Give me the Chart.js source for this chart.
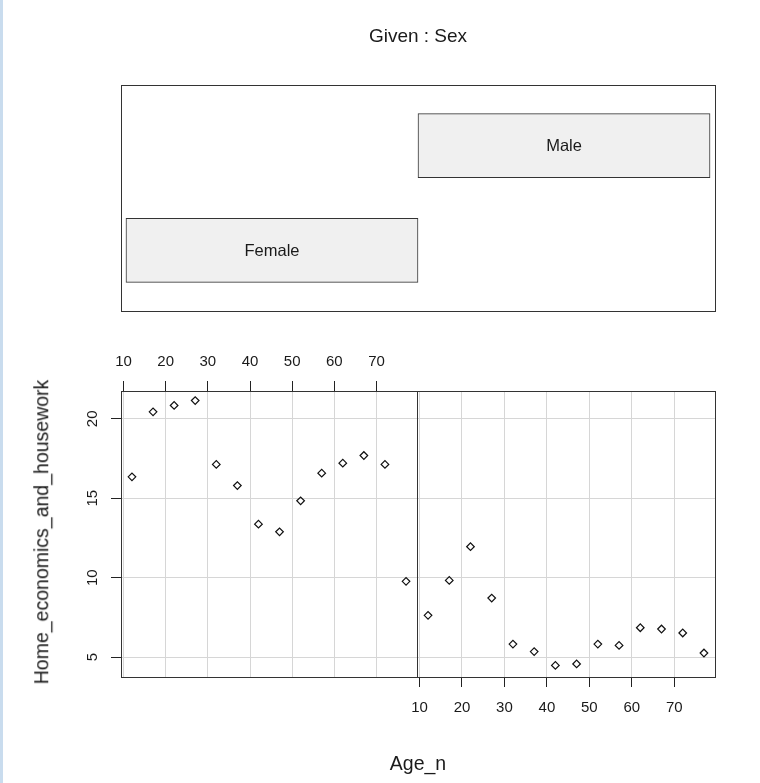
<!DOCTYPE html>
<html>
<head>
<meta charset="utf-8">
<script src="https://cdn.jsdelivr.net/npm/chart.js@4"></script>
<style>
body { margin: 0; background: #fff; }
#page { position: relative; width: 760px; height: 783px; overflow: hidden; font-family: "Liberation Sans", Arial, sans-serif; color: #1a1a1a; }
canvas { position: absolute; left: 0; top: 0; }
.lbl { position: absolute; line-height: 1; white-space: nowrap; transform: translate(-50%, -50%); }
#edge { position: absolute; left: 0; top: 0; width: 3px; height: 783px; background: #c9dcee; }
</style>
</head>
<body>
<div id="page">
  <div id="edge"></div>
  <canvas id="givenChart" width="760" height="783"></canvas>
  <canvas id="femaleChart" width="760" height="783"></canvas>
  <canvas id="maleChart" width="760" height="783"></canvas>
  <div class="lbl" style="left:418px; top:35px; font-size:19px">Given : Sex</div>
  <div class="lbl" style="left:418px; top:764px; font-size:19.5px">Age_n</div>
  <div class="lbl" style="left:42px; top:532px; font-size:19.5px; transform:translate(-50%, -50%) rotate(-90deg)">Home_economics_and_housework</div>
</div>
<script>
// given panel: one interval per level of Sex
const sexLevels = ['Female', 'Male']
const sexStart = [0.5, 1.5]
const sexEnd = [1.5, 2.5]

// dependence panels
const ages = [12, 17, 22, 27, 32, 37, 42, 47, 52, 57, 62, 67, 72, 77]
const femaleValues = [16.35, 20.44, 20.84, 21.15, 17.13, 15.8, 13.37, 12.89, 14.84, 16.58, 17.21, 17.69, 17.13, 9.77]
const maleValues = [7.63, 9.83, 11.95, 8.72, 5.82, 5.35, 4.48, 4.57, 5.82, 5.74, 6.85, 6.77, 6.52, 5.26]

const ageTicks = [10, 20, 30, 40, 50, 60, 70]
const valueTicks = [5, 10, 15, 20]

const FONT = '"Liberation Sans", Arial, sans-serif'
const gridColor = '#d6d6d6'
const tickColor = '#222'
const textColor = '#1a1a1a'

const ageMin = 9.4, ageMax = 79.6
const valueMin = 3.75, valueMax = 21.75

const framePlugin = {
    id: 'frame',
    beforeDatasetsDraw(chart) {
        const { ctx, chartArea: a } = chart
        ctx.save()
        ctx.strokeStyle = '#333'
        ctx.lineWidth = 1
        ctx.strokeRect(a.left + 0.5, a.top + 0.5, a.right - a.left, a.bottom - a.top)
        ctx.restore()
    }
}

const barLabels = {
    id: 'barLabels',
    afterDatasetsDraw(chart) {
        const ctx = chart.ctx
        ctx.save()
        ctx.fillStyle = textColor
        ctx.font = '16.5px ' + FONT
        ctx.textAlign = 'center'
        ctx.textBaseline = 'middle'
        chart.getDatasetMeta(0).data.forEach((bar, i) => {
            const p = bar.getCenterPoint()
            ctx.fillText(sexLevels[i], p.x, p.y + 1)
        })
        ctx.restore()
    }
}

const common = {
    responsive: false,
    animation: false,
    events: [],
    plugins: { legend: { display: false }, tooltip: { enabled: false } }
}

// given : Sex
new Chart(document.getElementById('givenChart'), {
    type: 'bar',
    data: {
        datasets: [{
            data: sexLevels.map((s, i) => ({ x: [sexStart[i], sexEnd[i]], y: i + 1 })),
            backgroundColor: '#f0f0f0',
            borderColor: '#333',
            borderWidth: 1,
            borderSkipped: false,
            barThickness: 64
        }]
    },
    options: {
        ...common,
        indexAxis: 'y',
        layout: { padding: { left: 121, right: 45, top: 85, bottom: 472 } },
        scales: {
            x: { type: 'linear', min: 0.483, max: 2.517, display: false },
            y: { type: 'linear', min: 0.42, max: 2.58, offset: false, display: false }
        }
    },
    plugins: [framePlugin, barLabels]
})

function panel(id, values, side) {
    const isLeft = side === 'left'
    const tickFont = { family: FONT, size: 15 }
    new Chart(document.getElementById(id), {
        type: 'scatter',
        data: {
            datasets: [{
                data: ages.map((a, i) => ({ x: a, y: values[i] })),
                pointStyle: 'rectRot',
                pointRadius: 3.8,
                borderColor: '#111',
                borderWidth: 1.2,
                backgroundColor: 'rgba(0,0,0,0)'
            }]
        },
        options: {
            ...common,
            layout: {
                padding: isLeft
                    ? { left: 81, right: 343, top: 351, bottom: 106 }
                    : { left: 417, right: 45, top: 391, bottom: 66 }
            },
            scales: {
                x: {
                    type: 'linear',
                    position: isLeft ? 'top' : 'bottom',
                    min: ageMin,
                    max: ageMax,
                    afterBuildTicks: s => { s.ticks = ageTicks.map(v => ({ value: v })) },
                    afterFit: s => { s.height = 40 },
                    ticks: { font: tickFont, color: textColor, padding: isLeft ? 10 : 12, maxRotation: 0, autoSkip: false },
                    grid: { color: gridColor, tickColor: tickColor, tickLength: 10 },
                    border: { display: false }
                },
                y: {
                    type: 'linear',
                    min: valueMin,
                    max: valueMax,
                    afterBuildTicks: s => { s.ticks = valueTicks.map(v => ({ value: v })) },
                    afterFit: s => { s.width = isLeft ? 40 : 0 },
                    ticks: {
                        display: isLeft,
                        font: tickFont,
                        color: textColor,
                        minRotation: 90,
                        maxRotation: 90,
                        crossAlign: 'center',
                        padding: 10
                    },
                    grid: { color: gridColor, tickColor: tickColor, tickLength: 10, drawTicks: isLeft },
                    border: { display: false }
                }
            }
        },
        plugins: [framePlugin]
    })
}

panel('femaleChart', femaleValues, 'left')
panel('maleChart', maleValues, 'right')
</script>
</body>
</html>
